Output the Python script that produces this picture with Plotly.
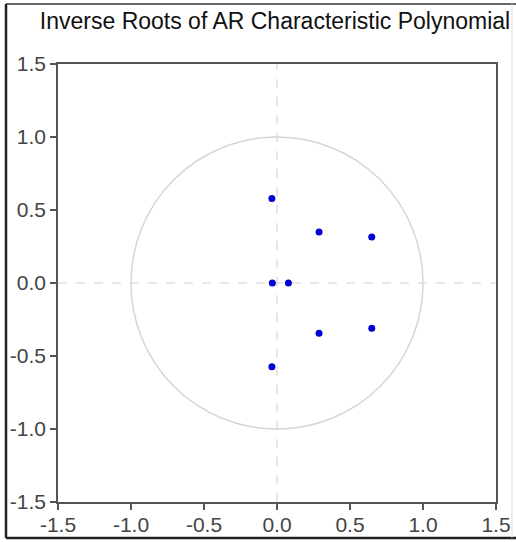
import plotly.graph_objects as go

root_real = [-0.035, 0.288, 0.649, -0.032, 0.078, 0.288, 0.649, -0.035]
root_imag = [0.578, 0.350, 0.315, 0.0, 0.0, -0.345, -0.310, -0.574]

tick_vals = [-1.5, -1.0, -0.5, 0.0, 0.5, 1.0, 1.5]
tick_text = ["-1.5", "-1.0", "-0.5", "0.0", "0.5", "1.0", "1.5"]

title_text = "Inverse Roots of AR Characteristic Polynomial"

fig = go.Figure()
fig.add_trace(go.Scatter(
    x=root_real, y=root_imag, mode="markers",
    marker=dict(color="#0000d0", size=7, symbol="circle"),
    showlegend=False, hoverinfo="x+y",
))

shapes = [
    # unit circle
    dict(type="circle", xref="x", yref="y", x0=-1, y0=-1, x1=1, y1=1,
         line=dict(color="#d6d6d6", width=1.5), layer="below"),
    # zero lines
    dict(type="line", xref="x", yref="y", x0=-1.5, x1=1.5, y0=0, y1=0,
         line=dict(color="#cfcfcf", width=1, dash="dash"), layer="below"),
    dict(type="line", xref="x", yref="y", x0=0, x1=0, y0=-1.5, y1=1.5,
         line=dict(color="#cfcfcf", width=1, dash="dash"), layer="below"),
    # outer frame
    dict(type="line", xref="paper", yref="paper", x0=-0.1187, x1=-0.1187, y0=-0.082, y1=1.137,
         line=dict(color="#222222", width=2.5)),
    dict(type="line", xref="paper", yref="paper", x0=-0.1187, x1=1.1, y0=1.137, y1=1.137,
         line=dict(color="#333333", width=1.5)),
    dict(type="line", xref="paper", yref="paper", x0=-0.1187, x1=1.1, y0=-0.082, y1=-0.082,
         line=dict(color="#222222", width=2.5)),
    dict(type="line", xref="paper", yref="paper", x0=1.0365, x1=1.0365, y0=-0.082, y1=1.137,
         line=dict(color="#dddddd", width=1)),
]

axis_common = dict(
    range=[-1.5, 1.5], tickmode="array", tickvals=tick_vals, ticktext=tick_text,
    showgrid=False, zeroline=False, showline=True, mirror=True,
    linecolor="#555555", linewidth=1.5, ticks="outside", ticklen=6,
    tickcolor="#555555", tickwidth=1.5, automargin=False,
    tickfont=dict(family="Liberation Sans, Arial, sans-serif", size=21, color="#444444"),
)

fig.update_layout(
    width=516, height=542,
    margin=dict(l=58, r=20, t=64, b=40),
    paper_bgcolor="white", plot_bgcolor="white",
    title=dict(text=title_text, x=0.533, xref="container", xanchor="center",
               y=0.962, yref="container", yanchor="middle",
               font=dict(family="Liberation Sans, Arial, sans-serif", size=23, color="#111111")),
    xaxis=dict(**axis_common, ticklabelstandoff=-3),
    yaxis=dict(**axis_common),
    shapes=shapes,
)

fig.write_html("out.html", config={"displayModeBar": False},
               post_script="document.body.style.margin='0';document.body.style.padding='0';")
